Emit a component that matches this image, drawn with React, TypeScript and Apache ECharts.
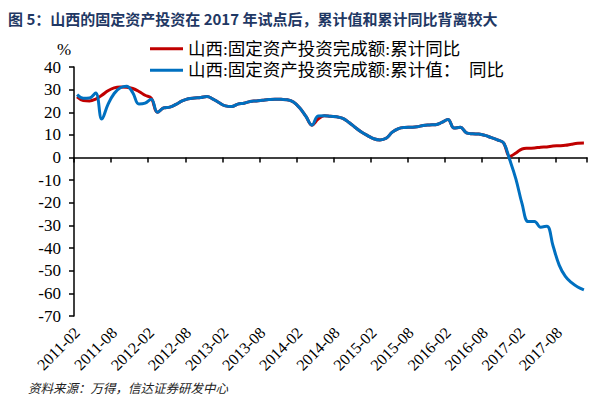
import React, { useEffect, useRef } from "react";
import * as echarts from "echarts";

// monthly categories 2011-02 .. 2017-12
const categories: string[] = (() => {
  const out: string[] = [];
  let y = 2011;
  let m = 2;
  while (y < 2017 || (y === 2017 && m <= 12)) {
    out.push(`${y}-${m < 10 ? "0" + m : m}`);
    m++;
    if (m > 12) {
      m = 1;
      y++;
    }
  }
  return out;
})();

const seriesNames = [
  "山西:固定资产投资完成额:累计同比",
  "山西:固定资产投资完成额:累计值：　同比",
];

const cumulativeYoY: number[] = [
  26.8, 25.2, 25, 25.8, 27.5, 29.5, 30.8, 31.2, 31.1, 30.5,
  29.2, 27.5, 26.2, 20, 21.9, 22.3, 23.5, 25, 26, 26.3,
  26.5, 27, 25.8, 24.2, 22.8, 22.5, 23.6, 24, 24.8, 25,
  25.3, 25.6, 25.8, 25.7, 25.5, 24.5, 22, 18.3, 14.3, 17,
  18.5, 18.2, 18, 17.3, 15.5, 13.3, 11.3, 9.7, 8.3, 7.8,
  8.5, 11.2, 12.8, 13.3, 13.4, 13.6, 14.2, 14.4, 14.5, 15.5,
  16.8, 13, 13.4, 10.9, 10.5, 10.4, 9.8, 8.8, 7.8, 6.5,
  0.5, 2, 3.8, 4.1, 4.2, 4.6, 4.7, 5.1, 5.2, 5.4,
  5.9, 6.3, 6.4,
];

const cumulativeValueYoY: number[] = [
  27.8, 26.2, 26.3, 28.5, 17, 23.5, 28.3, 30.8, 31.5, 28.7,
  23.6, 24, 25.8, 20, 21.9, 22.3, 23.5, 25, 26, 26.3,
  26.5, 27, 25.8, 24.2, 22.8, 22.5, 23.6, 24, 24.8, 25,
  25.3, 25.6, 25.8, 25.7, 25.5, 24.5, 22, 18.3, 14.3, 18.4,
  18.5, 18.2, 18, 17.3, 15.5, 13.3, 11.3, 9.7, 8.3, 7.8,
  8.5, 11.2, 12.8, 13.3, 13.4, 13.6, 14.2, 14.4, 14.5, 15.5,
  16.8, 13, 13.4, 10.9, 10.5, 10.4, 9.8, 8.8, 7.8, 6.5,
  -1, -9.5, -20.5, -28.3, -28.2, -30.8, -30.3, -39, -47.5, -52.5,
  -55.3, -57.2, -58.5,
];

const yMin = -70;
const yMax = 40;
const yInterval = 10;

const titleText = "图 5：山西的固定资产投资在 2017 年试点后，累计值和累计同比背离较大";
const sourceText = "资料来源：万得，信达证券研发中心";

const SERIF = '"Liberation Serif", "Times New Roman", "Noto Sans CJK SC", serif';

export default function App() {
  const ref = useRef<HTMLDivElement>(null);
  useEffect(() => {
    if (!ref.current) return;
    const chart = echarts.init(ref.current, null, { renderer: "svg" });
    chart.setOption({
      animation: false,
      backgroundColor: "#ffffff",
      grid: { left: 74, top: 67, width: 513, height: 249, containLabel: false },
      legend: {
        orient: "vertical",
        left: 145,
        top: 35,
        itemWidth: 33,
        itemHeight: 3,
        itemGap: 4,
        icon: "rect",
        data: seriesNames,
        textStyle: { fontFamily: SERIF, fontSize: 17.5, color: "#000" },
      },
      xAxis: [
        {
          type: "category",
          data: categories,
          boundaryGap: true,
          axisLine: { onZero: true, lineStyle: { color: "#000", width: 1.5 } },
          axisTick: { show: true, interval: 5, length: 5, lineStyle: { color: "#000", width: 1.5 } },
          axisLabel: { show: false },
          splitLine: { show: false },
        },
        {
          type: "category",
          data: categories,
          boundaryGap: true,
          position: "bottom",
          axisLine: { show: false, onZero: false },
          axisTick: { show: false },
          axisLabel: {
            show: true,
            interval: 5,
            rotate: 45,
            margin: 14,
            fontFamily: SERIF,
            fontSize: 16,
            color: "#000",
          },
          splitLine: { show: false },
        },
      ],
      yAxis: {
        type: "value",
        min: yMin,
        max: yMax,
        interval: yInterval,
        axisLine: { show: true, lineStyle: { color: "#000", width: 1.5 } },
        axisTick: { show: true, length: 5, lineStyle: { color: "#000", width: 1.5 } },
        axisLabel: { fontFamily: SERIF, fontSize: 17, color: "#000", margin: 13 },
        splitLine: { show: false },
      },
      series: [
        {
          name: seriesNames[0],
          type: "line",
          data: cumulativeYoY,
          smooth: 0.4,
          symbol: "none",
          lineStyle: { color: "#C00000", width: 3 },
          itemStyle: { color: "#C00000" },
          xAxisIndex: 0,
        },
        {
          name: seriesNames[1],
          type: "line",
          data: cumulativeValueYoY,
          smooth: 0.4,
          symbol: "none",
          lineStyle: { color: "#0070C0", width: 3 },
          itemStyle: { color: "#0070C0" },
          xAxisIndex: 0,
        },
      ],
      graphic: [
        {
          type: "text",
          left: 8,
          top: 11,
          style: {
            text: titleText,
            fontFamily: '"Noto Sans CJK SC", "Liberation Sans", sans-serif',
            fontWeight: "bold",
            fontSize: 15,
            fill: "#1F3864",
          },
        },
        {
          type: "text",
          left: 57,
          top: 41,
          style: { text: "%", fontFamily: SERIF, fontSize: 17, fill: "#000" },
        },
        {
          type: "text",
          left: 28,
          top: 381,
          style: {
            text: sourceText,
            fontFamily: '"Noto Sans CJK SC", sans-serif',
            fontStyle: "italic",
            fontSize: 12.5,
            fill: "#222",
          },
        },
      ],
    });
    return () => chart.dispose();
  }, []);
  return (
    <div
      ref={ref}
      style={{ position: "absolute", left: 0, top: 0, width: 602, height: 398 }}
    />
  );
}
